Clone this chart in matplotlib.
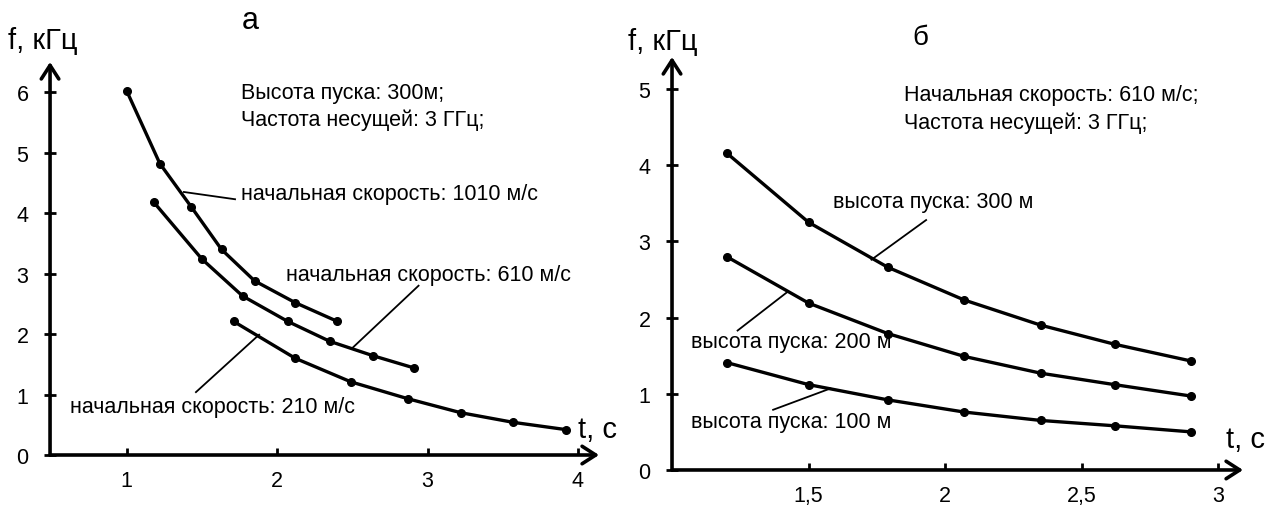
import matplotlib.pyplot as plt

plt.rcParams['font.family'] = ['Liberation Sans', 'DejaVu Sans']

# ---------- Data ----------

# panel "а": different launch speeds, height 300 m
t_1010 = [1.00, 1.22, 1.43, 1.63, 1.85, 2.12, 2.40]
f_1010 = [6.02, 4.82, 4.10, 3.40, 2.88, 2.52, 2.21]
t_610 = [1.18, 1.50, 1.77, 2.07, 2.35, 2.64, 2.91]
f_610 = [4.18, 3.24, 2.63, 2.21, 1.88, 1.64, 1.44]
t_210 = [1.71, 2.12, 2.49, 2.87, 3.22, 3.57, 3.92]
f_210 = [2.21, 1.60, 1.21, 0.93, 0.70, 0.54, 0.42]

# panel "б": different launch heights, speed 610 m/s
t_h = [1.20, 1.50, 1.79, 2.07, 2.35, 2.62, 2.90]
f_300 = [4.16, 3.25, 2.66, 2.23, 1.90, 1.65, 1.43]
f_200 = [2.80, 2.19, 1.79, 1.49, 1.27, 1.12, 0.97]
f_100 = [1.41, 1.12, 0.92, 0.76, 0.65, 0.58, 0.50]

ticks_a = [1, 2, 3, 4]
yticks_a = [0, 1, 2, 3, 4, 5, 6]
ticks_b = [1.5, 2, 2.5, 3]
tick_labels_b = ['1,5', '2', '2,5', '3']
yticks_b = [0, 1, 2, 3, 4, 5]


# ---------- Helpers ----------

def setup_axes(ax, xlim, ylim, xticks, xlabels, yticks):
    """Arrowed axes with short ticks, like a hand-drawn graph."""
    ax.set_xlim(*xlim)
    ax.set_ylim(*ylim)
    for s in ax.spines.values():
        s.set_visible(False)
    ax.set_xticks(xticks)
    ax.set_xticklabels(xlabels)
    ax.set_yticks(yticks)
    ax.tick_params(axis='x', direction='in', length=5, width=2,
                   pad=11, labelsize=15.5)
    ax.tick_params(axis='y', direction='inout', length=9, width=2,
                   pad=11, labelsize=15.5)
    arrow = dict(arrowstyle='->,head_length=0.7,head_width=0.45', lw=2.6,
                 color='black', shrinkA=0, shrinkB=0, mutation_scale=14)
    ax.annotate('', xy=(1, 0), xytext=(0, 0), xycoords='axes fraction',
                arrowprops=arrow, annotation_clip=False)
    ax.annotate('', xy=(0, 1), xytext=(0, 0), xycoords='axes fraction',
                arrowprops=arrow, annotation_clip=False)


def curve(ax, t, f):
    ax.plot(t, f, color='black', lw=2.4, marker='o', markersize=5.5,
            clip_on=False)


def leader(ax, x, y):
    ax.plot(x, y, color='black', lw=1.3)


# ---------- Figure ----------

fig = plt.figure(figsize=(12.67, 5.06), dpi=100)
ax1 = fig.add_axes([0.0395, 0.0988, 0.4333, 0.7767])
ax2 = fig.add_axes([0.5304, 0.0692, 0.4507, 0.8162])

# panel а
setup_axes(ax1, (0.49, 4.14), (0, 6.5), ticks_a,
           [str(v) for v in ticks_a], yticks_a)
curve(ax1, t_1010, f_1010)
curve(ax1, t_610, f_610)
curve(ax1, t_210, f_210)

fs = 15.5
ax1.text(1.76, 6.0, 'Высота пуска: 300м;', fontsize=fs, va='center')
ax1.text(1.76, 5.55, 'Частота несущей: 3 ГГц;', fontsize=fs, va='center')
ax1.text(1.76, 4.32, 'начальная скорость: 1010 м/с', fontsize=fs,
         va='center')
ax1.text(2.06, 2.98, 'начальная скорость: 610 м/с', fontsize=fs,
         va='center')
ax1.text(0.62, 0.80, 'начальная скорость: 210 м/с', fontsize=fs,
         va='center')
leader(ax1, [1.38, 1.72], [4.35, 4.23])
leader(ax1, [2.94, 2.50], [2.80, 1.77])
leader(ax1, [1.46, 1.88], [1.04, 1.99])

# panel б
setup_axes(ax2, (1.0, 3.09), (0, 5.42), ticks_b, tick_labels_b, yticks_b)
curve(ax2, t_h, f_300)
curve(ax2, t_h, f_200)
curve(ax2, t_h, f_100)

ax2.text(1.85, 4.93, 'Начальная скорость: 610 м/с;', fontsize=fs,
         va='center')
ax2.text(1.85, 4.57, 'Частота несущей: 3 ГГц;', fontsize=fs, va='center')
ax2.text(1.59, 3.53, 'высота пуска: 300 м', fontsize=fs, va='center')
ax2.text(1.07, 1.68, 'высота пуска: 200 м', fontsize=fs, va='center')
ax2.text(1.07, 0.64, 'высота пуска: 100 м', fontsize=fs, va='center')
leader(ax2, [1.93, 1.73], [3.28, 2.76])
leader(ax2, [1.24, 1.42], [1.83, 2.33])
leader(ax2, [1.37, 1.58], [0.79, 1.07])

# labels and panel letters
fig.text(8 / 1267, 1 - 41 / 506, 'f, кГц', fontsize=21, va='center')
fig.text(628 / 1267, 1 - 42 / 506, 'f, кГц', fontsize=21, va='center')
fig.text(578 / 1267, 1 - 430 / 506, 't, с', fontsize=21, va='center')
fig.text(1226 / 1267, 1 - 440 / 506, 't, с', fontsize=21, va='center')
fig.text(250 / 1267, 1 - 21 / 506, 'а', fontsize=22, va='center',
         ha='center')
fig.text(920 / 1267, 1 - 38 / 506, 'б', fontsize=20, va='center',
         ha='center')

fig.savefig('out.png', dpi=100)
